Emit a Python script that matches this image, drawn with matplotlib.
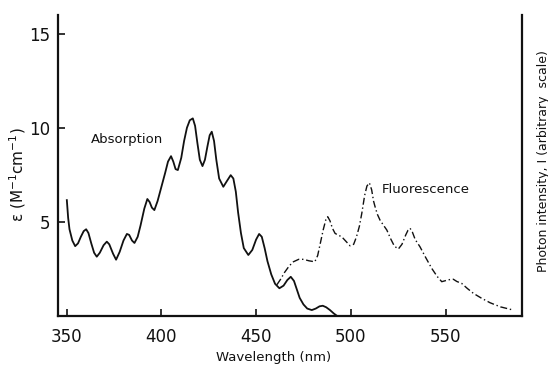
import matplotlib
matplotlib.use('Agg')
from matplotlib import pyplot as plt

# absorption spectrum (solid)
abs_wl = [350.1, 350.8, 351.5, 353, 354.5, 356, 357.5, 359, 360.3, 361.5,
          363, 364.5, 365.9, 367.5, 369.5, 371.2, 372.5, 374.5, 376.1, 378,
          380, 381.8, 383, 384.5, 385.8, 387.5, 389, 391, 392.6, 393.8,
          395, 396.3, 398, 400, 402, 403.5, 405.1, 406.3, 407.5, 408.7,
          410.5, 412, 413.5, 415, 416.6, 417.8, 419, 420.3, 421.7, 423,
          424.3, 425.5, 426.6, 427.8, 429, 430.5, 432.7, 434.5, 436.6, 438,
          439.3, 440.5, 442, 443.5, 445.9, 448, 450, 451.6, 453, 454.5,
          456, 458, 460, 462.3, 464.5, 466.5, 468.3, 470, 471.5, 473,
          475, 477, 479.4, 481.5, 483.5, 485.2, 487, 489, 491, 492.6]
abs_eps = [6.15, 5.2, 4.6, 4.0, 3.7, 3.85, 4.2, 4.5, 4.6, 4.4,
           3.85, 3.35, 3.14, 3.35, 3.75, 3.94, 3.8, 3.3, 2.98, 3.4,
           4.0, 4.35, 4.3, 4.0, 3.87, 4.2, 4.8, 5.7, 6.21, 6.05,
           5.75, 5.62, 6.1, 6.85, 7.6, 8.2, 8.49, 8.2, 7.8, 7.75,
           8.4, 9.3, 10.0, 10.4, 10.5, 10.1, 9.2, 8.3, 7.96, 8.3,
           9.0, 9.6, 9.79, 9.3, 8.3, 7.3, 6.86, 7.15, 7.48, 7.3,
           6.6, 5.5, 4.4, 3.6, 3.23, 3.5, 4.05, 4.35, 4.2, 3.6,
           2.9, 2.2, 1.7, 1.46, 1.6, 1.9, 2.07, 1.85, 1.4, 0.95,
           0.6, 0.38, 0.30, 0.38, 0.5, 0.53, 0.45, 0.3, 0.12, 0.0]

# fluorescence spectrum (dash-dot, arbitrary scale)
fl_wl = [461, 463, 465, 467.5, 469.7, 472.5, 475, 478, 481, 482.5,
         484, 485.5, 486.8, 487.8, 489, 490.3, 491.7, 493.5, 495.2, 497.5,
         499.6, 501.5, 503, 504.5, 505.8, 507.3, 508.5, 509.8, 511, 512,
         512.8, 514, 515.4, 517, 519, 521, 523, 525.1, 527, 529,
         530.2, 531.3, 532.5, 534, 536.5, 539.5, 542.7, 545.5, 548, 550.5,
         552.5, 554.1, 556, 558.5, 561.5, 564.7, 569, 573.5, 579, 585.8]
fl_int = [1.65, 1.95, 2.3, 2.65, 2.87, 3.0, 3.0, 2.92, 2.87, 3.2,
          3.9, 4.6, 5.1, 5.27, 5.05, 4.65, 4.38, 4.28, 4.2, 3.95,
          3.72, 3.8, 4.2, 4.75, 5.45, 6.4, 6.9, 7.07, 6.7, 6.1,
          5.8, 5.4, 5.09, 4.85, 4.56, 4.1, 3.7, 3.55, 3.8, 4.3,
          4.55, 4.65, 4.45, 4.05, 3.67, 3.1, 2.52, 2.1, 1.81, 1.88,
          1.93, 1.94, 1.82, 1.72, 1.45, 1.19, 0.93, 0.69, 0.47, 0.3]

x_ticks = [350, 400, 450, 500, 550]
y_ticks = [5, 10, 15]

fig = plt.figure(figsize=(5.48, 3.68), dpi=100)
ax = fig.add_axes([0.1064, 0.1421, 0.8456, 0.8171])

ax.plot(abs_wl, abs_eps, color='#111111', lw=1.3)
ax.plot(fl_wl, fl_int, color='#111111', lw=1.0, linestyle=(0, (5, 2, 1, 2)))

ax.set_xlim(345.6, 590.2)
ax.set_ylim(0, 16)
ax.set_xticks(x_ticks)
ax.set_yticks(y_ticks)
ax.tick_params(direction='in', length=5, width=1.2, labelsize=12, colors='#111111')
ax.tick_params(axis='y', pad=6)
ax.tick_params(axis='x', pad=9)

ax.spines['top'].set_visible(False)
for s in ['left', 'bottom', 'right']:
    ax.spines[s].set_linewidth(1.6)
    ax.spines[s].set_color('#111111')

ax.text(362.6, 9.4, 'Absorption', fontsize=9.5, va='center', ha='left', color='#111111')
ax.text(516.3, 6.74, 'Fluorescence', fontsize=9.5, va='center', ha='left', color='#111111')

fig.text(274 / 548, 1 - 357 / 368, 'Wavelength (nm)', fontsize=9.5,
         ha='center', va='center', color='#111111')
fig.text(18 / 548, 1 - 175 / 368, 'ε (M$^{-1}$cm$^{-1}$)', rotation=90,
         fontsize=11, ha='center', va='center', color='#111111')
fig.text(543 / 548, 1 - 161 / 368, 'Photon intensity, I (arbitrary  scale)',
         rotation=90, fontsize=9, ha='center', va='center', color='#111111')

fig.savefig('out.png', dpi=100)
